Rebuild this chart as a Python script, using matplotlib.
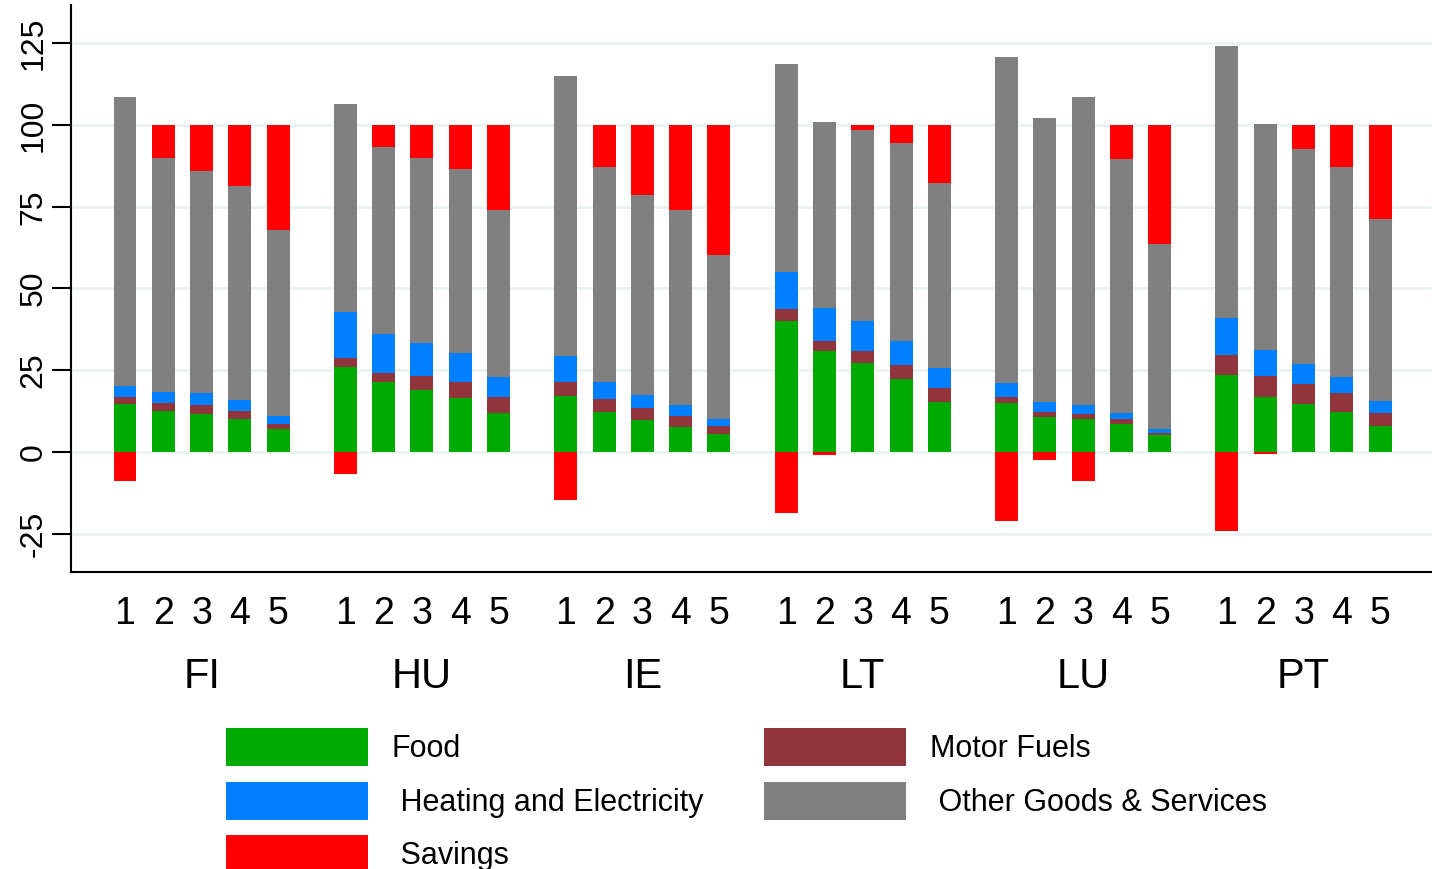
import matplotlib
matplotlib.use("Agg")
import matplotlib.pyplot as plt
import numpy as np

countries = ["FI", "HU", "IE", "LT", "LU", "PT"]
quintiles = ["1", "2", "3", "4", "5"]

# shares per country, quintile 1..5
food = [14.6, 12.5, 11.5, 10.1, 6.9,  26.1, 21.3, 19.1, 16.6, 11.9,
        17.2, 12.1, 9.7, 7.7, 5.5,    40.2, 30.8, 27.2, 22.2, 15.4,
        15.0, 10.7, 10.1, 8.5, 5.1,   23.5, 16.8, 14.6, 12.2, 7.8]
motor = [2.3, 2.6, 2.9, 2.5, 1.8,     2.5, 3.0, 4.1, 4.9, 5.0,
         4.3, 4.1, 3.8, 3.4, 2.4,     3.6, 3.2, 3.6, 4.3, 4.3,
         1.8, 1.5, 1.6, 1.5, 0.7,     6.1, 6.4, 6.2, 5.7, 4.0]
heat = [3.4, 3.2, 3.5, 3.2, 2.4,      14.3, 11.9, 10.1, 8.7, 6.0,
        7.8, 5.3, 4.0, 3.3, 2.3,      11.3, 10.1, 9.3, 7.5, 5.9,
        4.2, 3.2, 2.7, 2.0, 1.3,      11.4, 8.0, 6.2, 5.1, 3.7]
other = [88.4, 71.6, 67.9, 65.6, 56.8,  63.6, 57.0, 56.7, 56.4, 51.1,
         85.6, 65.8, 61.1, 59.6, 49.9,  63.5, 56.7, 58.3, 60.6, 56.7,
         99.9, 86.8, 94.3, 77.6, 56.5,  83.1, 69.1, 65.7, 64.3, 55.7]
savings = [-9.0, 10.1, 14.2, 18.6, 32.1,  -6.6, 6.8, 10.0, 13.4, 26.0,
           -14.7, 12.7, 21.4, 26.0, 39.9, -18.7, -0.9, 1.6, 5.4, 17.7,
           -21.1, -2.4, -8.8, 10.4, 36.4, -24.2, -0.7, 7.3, 12.7, 28.8]

plt.rcParams['font.family'] = ['Liberation Sans', 'DejaVu Sans']
plt.rcParams['axes.unicode_minus'] = False

food = np.array(food)
motor = np.array(motor)
heat = np.array(heat)
other = np.array(other)
savings = np.array(savings)

gstep = 5.755
x = np.array([g * gstep + i for g in range(len(countries)) for i in range(len(quintiles))])
w = 0.6

fig = plt.figure(figsize=(14.32, 8.69), dpi=100)
ax = fig.add_axes([71 / 1432, 1 - 572 / 869, 1 - 71 / 1432, (572 - 5) / 869])

b1 = food
b2 = b1 + motor
b3 = b2 + heat
b4 = b3 + other
sav_bottom = np.where(savings > 0, b4, 0)

h_food = ax.bar(x, food, w, color='#00AA00', zorder=3)
h_motor = ax.bar(x, motor, w, bottom=b1, color='#90353B', zorder=3)
h_heat = ax.bar(x, heat, w, bottom=b2, color='#0080FF', zorder=3)
h_other = ax.bar(x, other, w, bottom=b3, color='#808080', zorder=3)
h_sav = ax.bar(x, savings, w, bottom=sav_bottom, color='#FF0000', zorder=3)

ax.set_xlim(-1.41, 34.13)
ax.set_ylim(-36.7, 136.7)
ax.set_yticks([-25, 0, 25, 50, 75, 100, 125])
ax.tick_params(axis='y', labelsize=23, length=14, width=1.5, pad=2, labelrotation=90)
for lab in ax.get_yticklabels():
    lab.set_va('center')
ax.grid(axis='y', color='#EAF2F3', linewidth=2, zorder=0)

ax.set_xticks(x)
ax.set_xticklabels(quintiles * len(countries))
ax.tick_params(axis='x', labelsize=27, length=0, pad=17)

sec = ax.secondary_xaxis('bottom')
sec.set_xticks([g * gstep + 2 for g in range(len(countries))])
sec.set_xticklabels(countries)
sec.tick_params(axis='x', labelsize=30, length=0, pad=61)
sec.spines['bottom'].set_visible(False)

ax.spines['top'].set_visible(False)
ax.spines['right'].set_visible(False)
ax.spines['left'].set_linewidth(1.5)
ax.spines['bottom'].set_linewidth(1.5)

fig.legend([h_food, h_heat, h_sav, h_motor, h_other],
           ['Food', ' Heating and Electricity', ' Savings', 'Motor Fuels', ' Other Goods & Services'],
           loc='upper left', bbox_to_anchor=(226 / 1432, 1 - 728 / 869),
           ncol=2, frameon=False, fontsize=22, handlelength=4.64, handleheight=1.55,
           handletextpad=0.78, labelspacing=0.5, columnspacing=2.0,
           borderpad=0, borderaxespad=0)

fig.savefig('out.png', dpi=100)
